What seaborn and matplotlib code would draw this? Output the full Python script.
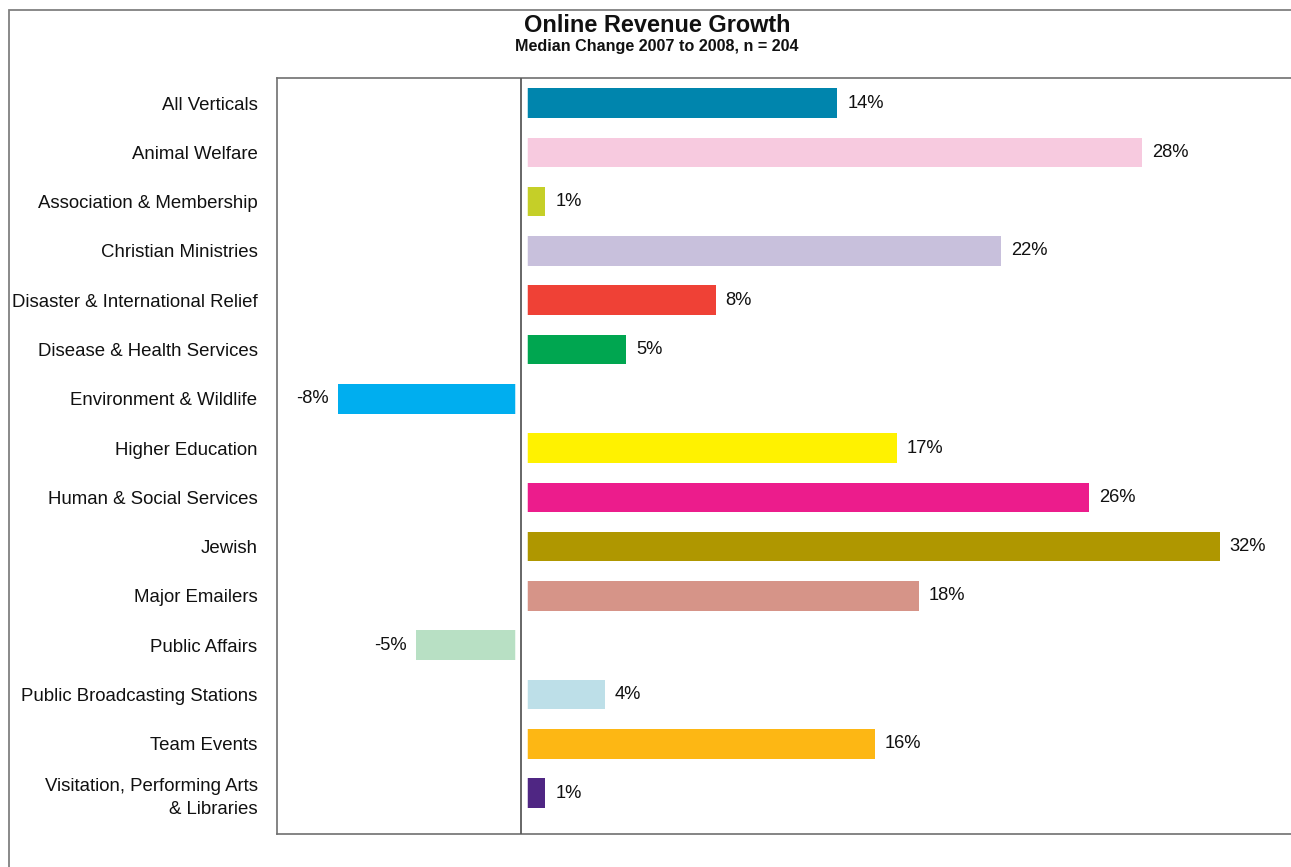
import matplotlib
matplotlib.use("Agg")
import matplotlib.pyplot as plt
import matplotlib.patches as mpatches
import seaborn as sns
import pandas as pd

categories = [
    "All Verticals",
    "Animal Welfare",
    "Association & Membership",
    "Christian Ministries",
    "Disaster & International Relief",
    "Disease & Health Services",
    "Environment & Wildlife",
    "Higher Education",
    "Human & Social Services",
    "Jewish",
    "Major Emailers",
    "Public Affairs",
    "Public Broadcasting Stations",
    "Team Events",
    "Visitation, Performing Arts\n& Libraries",
]
values = [14.3, 28.1, 1.1, 21.7, 8.8, 4.75, -8.3, 17.0, 25.7, 31.6, 18.0, -4.75, 3.8, 16.0, 1.1]
value_labels = ["14%", "28%", "1%", "22%", "8%", "5%", "-8%", "17%", "26%", "32%",
                "18%", "-5%", "4%", "16%", "1%"]
colors = ["#0085AD", "#F7CADF", "#C5CF28", "#C8C0DC", "#EF4136", "#00A650", "#00AEEF",
          "#FFF200", "#EC1C8C", "#AF9700", "#D69488", "#B8E0C4", "#BDDFE8", "#FDB714", "#4F2683"]

sns.set_style("white")
plt.rcParams["font.family"] = ["Liberation Sans", "DejaVu Sans"]

df = pd.DataFrame({"category": categories, "value": values})

fig = plt.figure(figsize=(12.91, 8.67), dpi=100)
ax = fig.add_axes([277 / 1291, 33 / 867, 1040 / 1291, 756 / 867])

sns.barplot(data=df, y="category", x="value", hue="category", palette=colors,
            legend=False, orient="h", width=0.6, ax=ax, saturation=1, linewidth=0)

ax.set_xlim(-11.04, 36.0)
ax.set_ylim(14.83, -0.51)

# gap around the zero line, then the zero line itself
ax.axvline(0, color="white", lw=9.0, zorder=1.5)
ax.axvline(0, color="#5a5a5a", lw=1.3, zorder=3)

for i, (v, lab) in enumerate(zip(values, value_labels)):
    if v >= 0:
        ax.text(v + 0.45, i, lab, va="center", ha="left", fontsize=13.2, color="#111111")
    else:
        ax.text(v - 0.4, i, lab, va="center", ha="right", fontsize=13.2, color="#111111")

ax.set_xlabel("")
ax.set_ylabel("")
ax.set_xticks([])
ax.tick_params(axis="y", length=0, pad=14, labelsize=13.4, labelcolor="#111111")
for lbl in ax.get_yticklabels():
    lbl.set_linespacing(1.45)
for s in ["left", "top", "bottom", "right"]:
    ax.spines[s].set_visible(True)
    ax.spines[s].set_color("#707070")
    ax.spines[s].set_linewidth(1.2)

# outer frame
frame = mpatches.Rectangle((9 / 1291, -0.1), 1.2, 0.1 + (867 - 10) / 867,
                           transform=fig.transFigure, fill=False,
                           edgecolor="#808080", lw=1.3, clip_on=False)
fig.patches.append(frame)

fig.text(657 / 1291, 1 - 25 / 867, "Online Revenue Growth", ha="center", va="center",
         fontsize=16.9, fontweight="bold", color="#111111")
fig.text(657 / 1291, 1 - 46.5 / 867, "Median Change 2007 to 2008, n = 204", ha="center",
         va="center", fontsize=11.6, fontweight="bold", color="#111111")

fig.savefig("out.png", dpi=100)
